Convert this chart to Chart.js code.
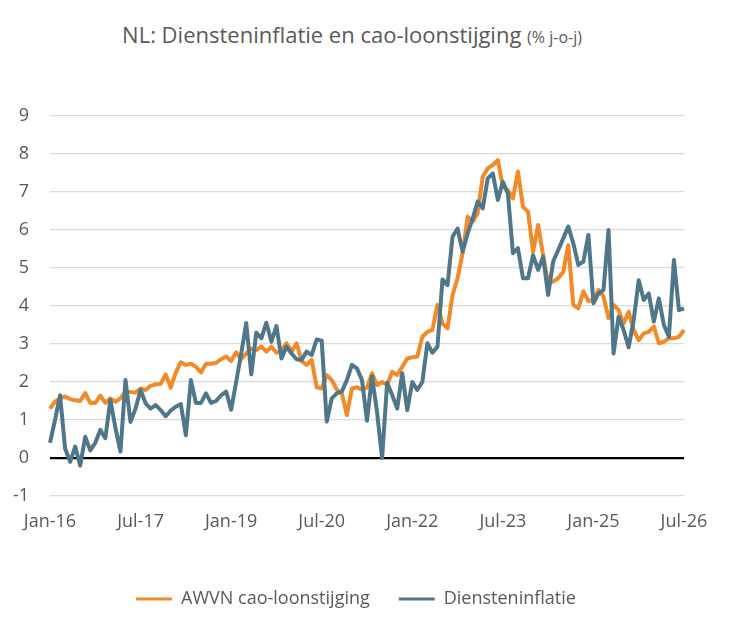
<!DOCTYPE html>
<html>
<head>
<meta charset="utf-8">
<script src="https://cdn.jsdelivr.net/npm/chart.js@4.4.1/dist/chart.umd.min.js"></script>
<style>
  body { margin: 0; background: #fff; }
  #wrap { position: relative; width: 746px; height: 618px; }
  #title { position: absolute; left: 0; top: 19px; width: 704px; text-align: center;
           font-family: 'Open Sans', sans-serif; font-size: 22px; color: #595959; white-space: nowrap; }
  #title span { font-size: 16px; }
  canvas { position: absolute; left: 0; top: 0; }
</style>
</head>
<body>
<div id="wrap">
  <div id="title">NL: Diensteninflatie en cao-loonstijging <span>(% j-o-j)</span></div>
  <canvas id="chart" width="746" height="618"></canvas>
</div>
<script>
// maandelijkse reeks, jan-16 t/m jul-26
var monthNames = ['Jan','Feb','Mar','Apr','May','Jun','Jul','Aug','Sep','Oct','Nov','Dec'];
var tickLabels = ['Jan-16','Jul-17','Jan-19','Jul-20','Jan-22','Jul-23','Jan-25','Jul-26'];

// AWVN cao-loonstijging (% j-o-j)
var caoLoon = [
  1.30, 1.48, 1.57, 1.62, 1.55, 1.52, 1.50, 1.71, 1.45, 1.45, 1.64, 1.45,
  1.57, 1.48, 1.57, 1.74, 1.74, 1.72, 1.83, 1.79, 1.90, 1.94, 1.95, 2.20,
  1.85, 2.25, 2.52, 2.45, 2.48, 2.40, 2.25, 2.48, 2.48, 2.50, 2.60, 2.67,
  2.55, 2.78, 2.60, 2.75, 2.88, 2.84, 2.93, 2.80, 2.93, 2.77, 2.84, 3.02,
  2.80, 3.02, 2.55, 2.45, 2.58, 1.86, 1.83, 2.18, 2.05, 1.80, 1.70, 1.13,
  1.83, 1.86, 1.80, 1.85, 2.23, 1.92, 2.00, 1.92, 2.27, 2.18, 2.40, 2.62,
  2.65, 2.67, 3.19, 3.32, 3.37, 4.03, 3.54, 3.41, 4.29, 4.73, 5.39, 6.35,
  6.22, 6.45, 7.40, 7.62, 7.71, 7.84, 7.14, 7.05, 6.83, 7.54, 6.61, 6.48,
  5.43, 6.13, 5.34, 4.60, 4.64, 4.73, 4.90, 5.60, 4.03, 3.94, 4.38, 4.13,
  4.16, 4.42, 4.25, 3.68, 4.03, 3.89, 3.54, 3.85, 3.37, 3.10, 3.28, 3.32,
  3.46, 3.02, 3.06, 3.15, 3.15, 3.19, 3.37
];

// Diensteninflatie (% j-o-j)
var dienstenInfl = [
  0.40, 1.00, 1.65, 0.25, -0.10, 0.30, -0.20, 0.56, 0.20, 0.40, 0.74, 0.52,
  1.53, 0.79, 0.17, 2.05, 0.95, 1.30, 1.79, 1.44, 1.30, 1.39, 1.26, 1.10,
  1.25, 1.35, 1.42, 0.60, 2.05, 1.45, 1.45, 1.70, 1.45, 1.50, 1.65, 1.75,
  1.27, 2.00, 2.75, 3.55, 2.20, 3.30, 3.15, 3.56, 3.06, 3.47, 2.62, 2.93,
  2.75, 2.60, 2.58, 2.80, 2.71, 3.12, 3.09, 0.96, 1.57, 1.70, 1.75, 2.05,
  2.45, 2.36, 2.05, 0.98, 2.15, 1.20, 0.00, 1.98, 1.66, 1.30, 2.23, 1.26,
  2.00, 1.79, 2.00, 3.02, 2.77, 2.93, 4.70, 4.55, 5.82, 6.04, 5.43, 5.91,
  6.30, 6.75, 6.57, 7.36, 7.49, 6.79, 7.27, 6.96, 5.39, 5.52, 4.73, 4.73,
  5.34, 4.95, 5.30, 4.29, 5.17, 5.47, 5.78, 6.09, 5.65, 5.08, 5.17, 5.87,
  4.07, 4.33, 4.42, 6.00, 2.75, 3.72, 3.37, 2.91, 3.63, 4.68, 4.16, 4.33,
  3.59, 4.20, 3.50, 3.19, 5.21, 3.89, 3.94
];

var months = [];
for (let i = 0; i < caoLoon.length; i++) {
    let m = i % 12;
    let yr = 16 + Math.floor(i / 12);
    months.push(monthNames[m] + '-' + yr);
}

var orange = '#F28A28';
var slate = '#4F7789';
var textGrey = '#595959';
var fontName = "'Open Sans', sans-serif";

var ctx = document.getElementById('chart');
var myChart = new Chart(ctx, {
    type: 'line',
    data: {
        labels: months,
        datasets: [{
            label: 'AWVN cao-loonstijging',
            data: caoLoon,
            borderColor: orange,
            backgroundColor: orange,
            borderWidth: 4,
            pointRadius: 0,
            tension: 0,
            borderJoinStyle: 'round',
            order: 1
        }, {
            label: 'Diensteninflatie',
            data: dienstenInfl,
            borderColor: slate,
            backgroundColor: slate,
            borderWidth: 4,
            pointRadius: 0,
            tension: 0,
            borderJoinStyle: 'round',
            order: 0
        }]
    },
    options: {
        responsive: false,
        animation: false,
        layout: { padding: { left: 0, right: 34, top: 116, bottom: 0 } },
        plugins: {
            title: { display: false },
            tooltip: { enabled: false },
            legend: {
                position: 'bottom',
                labels: {
                    color: textGrey,
                    font: { family: fontName, size: 18 },
                    boxWidth: 36,
                    boxHeight: 3,
                    padding: 29,
                    generateLabels: function (chart) {
                        return chart.data.datasets.map(function (ds, i) {
                            return {
                                text: ds.label,
                                fillStyle: ds.borderColor,
                                strokeStyle: ds.borderColor,
                                lineWidth: 0,
                                fontColor: textGrey,
                                hidden: false,
                                datasetIndex: i
                            };
                        });
                    }
                }
            }
        },
        scales: {
            x: {
                grid: { display: false, drawTicks: false },
                border: { display: false },
                ticks: {
                    autoSkip: false,
                    maxRotation: 0,
                    padding: 15,
                    color: textGrey,
                    font: { family: fontName, size: 18 },
                    callback: function (val, idx) {
                        return idx % 18 === 0 ? tickLabels[idx / 18] : null;
                    }
                },
                afterFit: function (scale) { scale.height = 65; }
            },
            y: {
                min: -1,
                max: 9,
                grid: {
                    drawTicks: false,
                    color: function (c) { return c.tick && c.tick.value === 0 ? '#000000' : '#D9D9D9'; },
                    lineWidth: function (c) { return c.tick && c.tick.value === 0 ? 2.2 : 1.2; }
                },
                border: { display: false },
                ticks: {
                    stepSize: 1,
                    padding: 21,
                    color: textGrey,
                    font: { family: fontName, size: 18 }
                },
                afterFit: function (scale) { scale.width = 50; }
            },
            y2: {
                position: 'right',
                grid: { display: false, drawTicks: false },
                border: { display: false },
                ticks: { display: false },
                afterFit: function (scale) { scale.width = 28; }
            }
        }
    }
});
</script>
</body>
</html>
